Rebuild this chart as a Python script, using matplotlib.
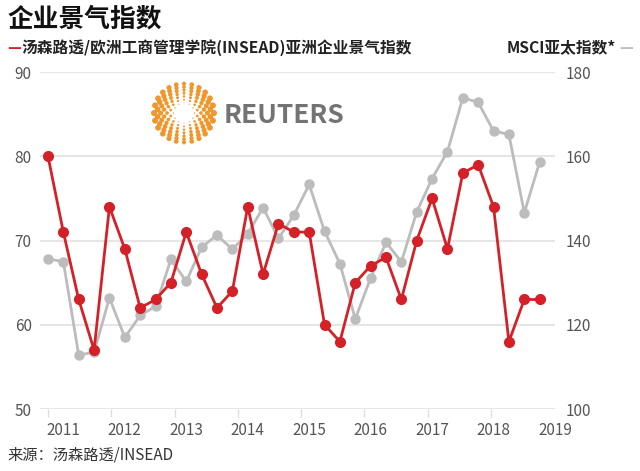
import numpy as np
import matplotlib
matplotlib.use("Agg")
import matplotlib.pyplot as plt
from matplotlib.ticker import FixedLocator

plt.rcParams['font.family'] = ['Noto Sans CJK SC', 'DejaVu Sans']

# 季度数据 2011Q1 - 2019Q1
quarters = 2011 + np.arange(33) / 4
insead = [80, 71, 63, 57, 74, 69, 62, 63, 65, 71, 66, 62, 64, 74, 66, 72,
          71, 71, 60, 58, 65, 67, 68, 63, 70, 75, 69, 78, 79, 74, 58, 63, 63]
msci = [135.6, 135.0, 112.8, 113.5, 126.4, 117.0, 122.2, 124.4, 135.5, 130.3,
        138.4, 141.3, 137.9, 141.6, 147.8, 140.5, 146.0, 153.3, 142.2, 134.5,
        121.4, 131.1, 139.6, 134.9, 146.8, 154.7, 161.1, 173.9, 172.8, 166.0,
        165.2, 146.6, 158.6]
years = [2011, 2012, 2013, 2014, 2015, 2016, 2017, 2018, 2019]
left_ticks = [50, 60, 70, 80, 90]
right_ticks = [100, 120, 140, 160, 180]

red = '#d42128'
gray = '#bcbcbc'
txt = '#555555'

fig = plt.figure(figsize=(6.4, 4.71), dpi=100)
ax2 = fig.add_axes([0.0625, 0.1316, 0.8047, 0.7155])
ax1 = ax2.twinx()
ax1.set_zorder(2)
ax1.patch.set_visible(False)

ax2.plot(quarters, msci, color=gray, lw=2, marker='o', ms=6.5, zorder=3)
ax1.plot(quarters, insead, color=red, lw=2, marker='o', ms=7, zorder=3)

# 左轴画到右边，右轴画到左边（坐标轴与 twinx 相反）
ax2.yaxis.tick_right()
ax1.yaxis.tick_left()
ax2.set_ylim(100, 180)
ax1.set_ylim(50, 90)
ax2.set_yticks(right_ticks)
ax1.set_yticks(left_ticks)
ax2.set_xlim(2010.87, 2019.09)

ax2.grid(axis='y', color='#e6e6e6', lw=1.5)
ax2.set_axisbelow(True)
for a in (ax1, ax2):
    for s in a.spines.values():
        s.set_visible(False)

ax1.tick_params(axis='y', length=0, pad=6, labelsize=11, labelcolor=txt)
ax2.tick_params(axis='y', length=0, pad=8, labelsize=11, labelcolor=txt)

# 年份标签
ax2.set_xticks([y + 0.25 for y in years])
ax2.set_xticklabels([str(y) for y in years])
ax2.tick_params(axis='x', length=0, pad=9, labelsize=11, labelcolor=txt)
ax2.xaxis.set_minor_locator(FixedLocator([2011 + k * 1.03 for k in range(8)]))
ax2.tick_params(axis='x', which='minor', length=6, width=1, color='#dddddd')
for lab in ax1.get_yticklabels() + ax2.get_yticklabels() + ax2.get_xticklabels():
    lab.set_fontweight('light')

# 标题和图例
fig.text(0.012, 0.988, '企业景气指数', fontsize=18.5, fontweight='bold',
         color='#111111', va='top', ha='left')
fig.text(0.012, 0.899, '—', fontsize=11, fontweight='bold', color=red,
         va='center', ha='left')
fig.text(0.034, 0.899, '汤森路透/欧洲工商管理学院(INSEAD)亚洲企业景气指数',
         fontsize=11.3, fontweight='bold', color='#222222', va='center', ha='left')
fig.text(0.962, 0.899, 'MSCI亚太指数*', fontsize=11.3, fontweight='bold',
         color='#222222', va='center', ha='right')
fig.text(0.968, 0.899, '—', fontsize=11, fontweight='bold', color=gray,
         va='center', ha='left')
fig.text(0.012, 0.035, '来源：汤森路透/INSEAD', fontsize=11, color='#333333',
         fontweight='light', va='center', ha='left')

# 路透社标志
lax = fig.add_axes([0.235, 0.69, 0.105, 0.14])
lax.set_xlim(-1.1, 1.1)
lax.set_ylim(-1.1, 1.1)
lax.axis('off')
for i, r in enumerate(np.linspace(0.34, 0.98, 7)):
    n = 12 + 2 * i
    ang = np.linspace(0, 2 * np.pi, n, endpoint=False) + (i % 2) * np.pi / n
    sz = (1.0 + 3.0 * i) * (0.45 + 0.55 * np.abs(np.cos(ang)))
    lax.scatter(r * np.cos(ang), r * np.sin(ang), s=sz, color='#f0962a',
                edgecolors='none')
fig.text(0.35, 0.755, 'REUTERS', fontsize=19, fontweight='bold',
         color='#737373', va='center', ha='left')

fig.savefig('out.png', dpi=100)
